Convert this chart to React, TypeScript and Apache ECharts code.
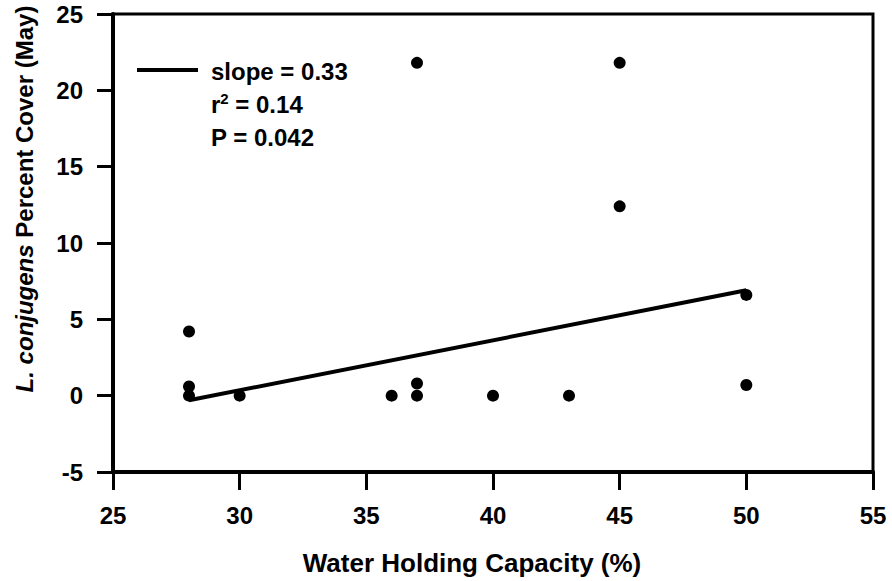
import React, { useEffect, useRef } from "react";
import * as echarts from "echarts";

const waterCapacity = [28, 28, 28, 30, 36, 37, 37, 37, 40, 43, 45, 45, 50, 50];
const percentCover = [4.2, 0.6, 0, 0, 0, 0.8, 0, 21.8, 0, 0, 21.8, 12.4, 6.6, 0.7];
const fitX = [28, 50];
const fitY = [-0.3, 6.9];
const xTicks = [25, 30, 35, 40, 45, 50, 55];
const yTicks = [-5, 0, 5, 10, 15, 20, 25];
const statLines = ["slope = 0.33", "{t|r}{sup|2}{t| = 0.14}", "P = 0.042"];

const FONT = "'Liberation Sans', Arial, Helvetica, sans-serif";

export default function App() {
  const ref = useRef<HTMLDivElement>(null);
  useEffect(() => {
    if (!ref.current) return;
    const chart = echarts.init(ref.current, undefined, { renderer: "svg" });
    const scatterData = waterCapacity.map((x, i) => [x, percentCover[i]]);
    const fitData = fitX.map((x, i) => [x, fitY[i]]);
    chart.setOption({
      animation: false,
      backgroundColor: "#fff",
      grid: {
        left: 113,
        top: 14,
        right: 19,
        bottom: 109,
        show: true,
        borderColor: "#000",
        borderWidth: 3,
      },
      xAxis: {
        type: "value",
        min: xTicks[0],
        max: xTicks[xTicks.length - 1],
        interval: xTicks[1] - xTicks[0],
        splitLine: { show: false },
        axisLine: { show: true, onZero: false, lineStyle: { color: "#000", width: 4 } },
        axisTick: { show: true, length: 18, lineStyle: { color: "#000", width: 3 } },
        axisLabel: {
          color: "#000",
          fontFamily: FONT,
          fontWeight: "bold",
          fontSize: 24,
          margin: 31,
        },
      },
      yAxis: {
        type: "value",
        min: yTicks[0],
        max: yTicks[yTicks.length - 1],
        interval: yTicks[1] - yTicks[0],
        splitLine: { show: false },
        axisLine: { show: true, onZero: false, lineStyle: { color: "#000", width: 4 } },
        axisTick: { show: true, length: 16, lineStyle: { color: "#000", width: 3 } },
        axisLabel: {
          color: "#000",
          fontFamily: FONT,
          fontWeight: "bold",
          fontSize: 24,
          margin: 30,
        },
      },
      series: [
        {
          type: "line",
          data: fitData,
          symbol: "none",
          lineStyle: { color: "#000", width: 4 },
          z: 3,
        },
        {
          type: "scatter",
          data: scatterData,
          symbol: "circle",
          symbolSize: 12,
          itemStyle: { color: "#000", opacity: 1 },
          z: 4,
        },
      ],
      graphic: [
        {
          type: "line",
          shape: { x1: 137, y1: 70, x2: 198, y2: 70 },
          style: { stroke: "#000", lineWidth: 4 },
        },
        ...statLines.map((t, i) => ({
          type: "text",
          x: 211,
          y: 71 + i * 33,
          style: {
            text: t,
            fill: "#000",
            font: `bold 24px ${FONT}`,
            textVerticalAlign: "middle",
            rich: {
              t: { fontFamily: FONT, fontWeight: "bold", fontSize: 24, fill: "#000" },
              sup: {
                fontFamily: FONT,
                fontWeight: "bold",
                fontSize: 15,
                fill: "#000",
                padding: [0, 0, 12, 0],
              },
            },
          },
        })),
        {
          type: "text",
          x: 472,
          y: 563,
          style: {
            text: "Water Holding Capacity (%)",
            fill: "#000",
            font: `bold 26px ${FONT}`,
            textAlign: "center",
            textVerticalAlign: "middle",
          },
        },
        {
          type: "text",
          x: 24,
          y: 199,
          rotation: Math.PI / 2,
          style: {
            text: "{i|L. conjugens}{n| Percent Cover (May)}",
            textAlign: "center",
            textVerticalAlign: "middle",
            fill: "#000",
            font: `bold 24px ${FONT}`,
            rich: {
              i: { fontFamily: FONT, fontWeight: "bold", fontStyle: "italic", fontSize: 24, fill: "#000" },
              n: { fontFamily: FONT, fontWeight: "bold", fontSize: 24, fill: "#000" },
            },
          },
        },
      ],
    });
    return () => chart.dispose();
  }, []);
  return (
    <div
      ref={ref}
      style={{ position: "fixed", left: 0, top: 0, width: 892, height: 581 }}
    />
  );
}
